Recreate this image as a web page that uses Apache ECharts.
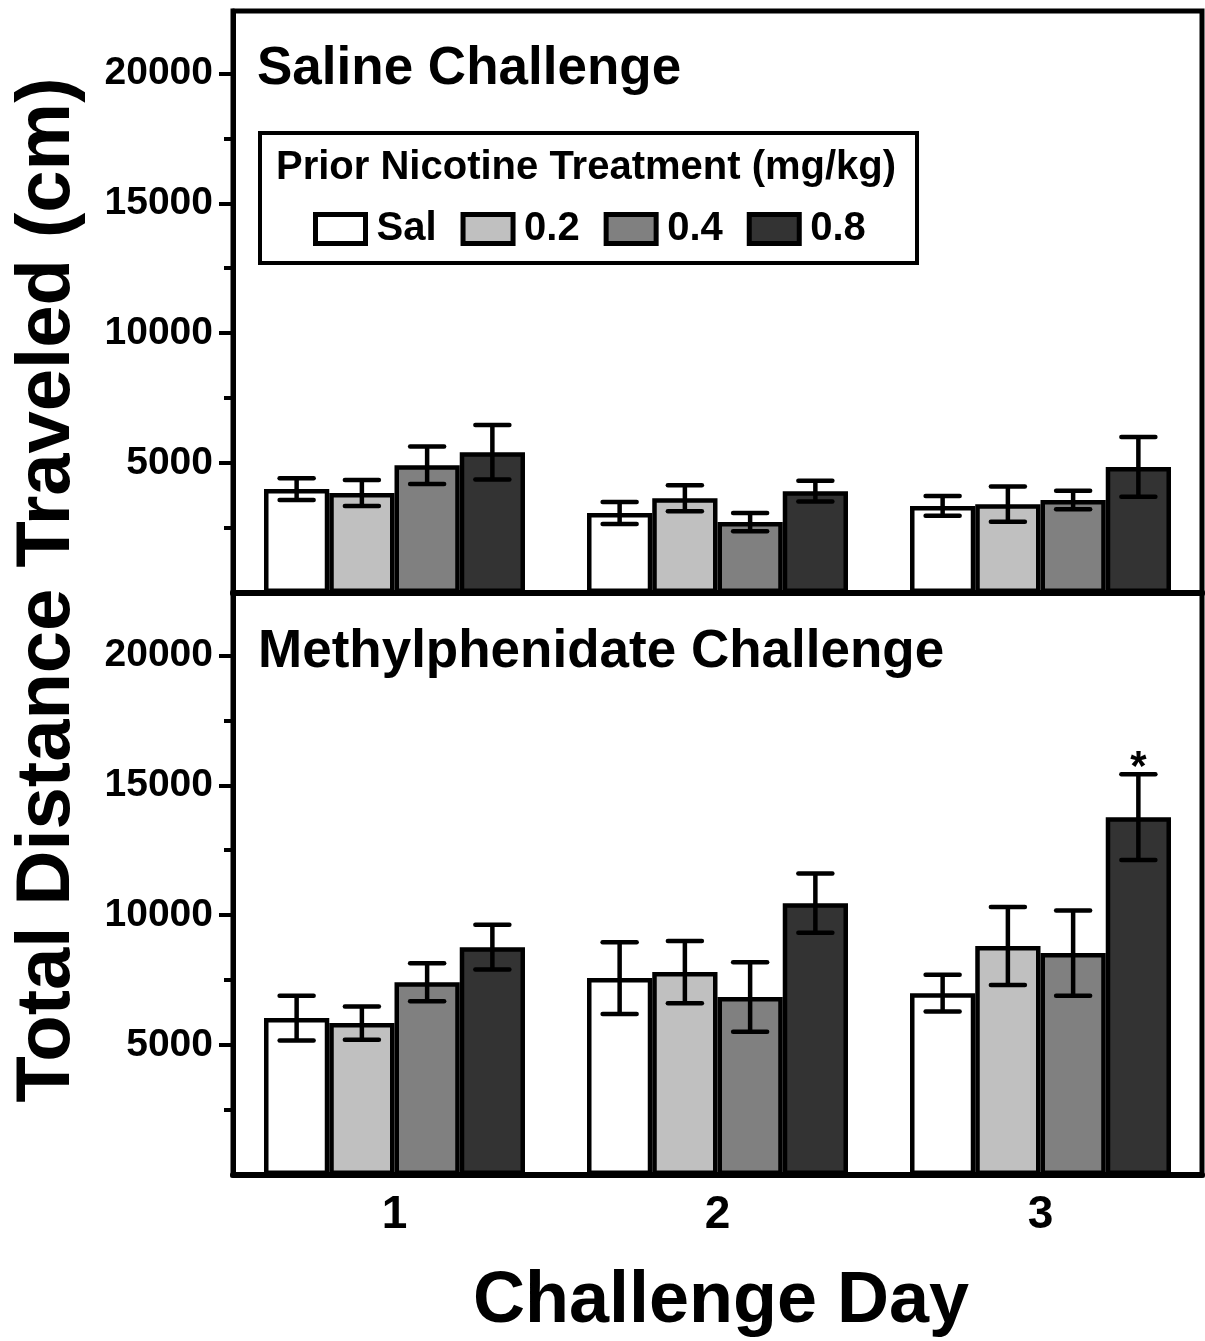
<!DOCTYPE html>
<html>
<head>
<meta charset="utf-8">
<script src="https://cdn.jsdelivr.net/npm/echarts@6/dist/echarts.min.js"></script>
<style>
html,body{margin:0;padding:0;background:#fff;}
#chart{width:1205px;height:1341px;}
</style>
</head>
<body>
<div id="chart"></div>
<script>
// ---- Data ----
const days = ['1', '2', '3'];
const groups = ['Sal', '0.2', '0.4', '0.8'];
const groupColors = ['#ffffff', '#c0c0c0', '#808080', '#333333'];

// Saline challenge: mean and SEM per group (rows) for days 1..3
const salineMeans = [
  [4000, 3080, 3350],   // Sal
  [3850, 3650, 3420],   // 0.2
  [4920, 2730, 3580],   // 0.4
  [5420, 3920, 4850]    // 0.8
];
const salineSems = [
  [420, 420, 380],
  [500, 500, 680],
  [720, 350, 360],
  [1050, 400, 1150]
];
// Methylphenidate challenge
const methMeans = [
  [6040, 7580, 7000],
  [5850, 7810, 8810],
  [7420, 6850, 8540],
  [8770, 10460, 13770]
];
const methSems = [
  [860, 1380, 710],
  [640, 1200, 1500],
  [730, 1340, 1640],
  [860, 1140, 1650]
];
// significance marks: [dayIndex, groupIndex]
const salineSig = [];
const methSig = [[2, 3]];

const yMax = 22400;
const majorTicks = [5000, 10000, 15000, 20000];
const minorTicks = [2500, 7500, 12500, 17500];

const FONT = "'Liberation Sans', Arial, Helvetica, sans-serif";
const CAT_GAP = 0.192;

// ---- Build options ----
const chart = echarts.init(document.getElementById('chart'), null, {renderer: 'canvas'});

function yAxesFor(gridIndex) {
  return [
    {
      type: 'value', gridIndex: gridIndex, min: 0, max: yMax,
      axisLine: {show: true, lineStyle: {color: '#000', width: 5}},
      axisTick: {show: true, customValues: majorTicks, length: 14, lineStyle: {color: '#000', width: 4}},
      axisLabel: {show: true, customValues: majorTicks, formatter: v => String(v), fontFamily: FONT, fontWeight: 'bold', fontSize: 39, color: '#000', margin: 20},
      splitLine: {show: false}
    },
    {
      type: 'value', gridIndex: gridIndex, min: 0, max: yMax, position: 'left',
      axisLine: {show: false},
      axisTick: {show: true, customValues: minorTicks, length: 9, lineStyle: {color: '#000', width: 4}},
      axisLabel: {show: false},
      splitLine: {show: false}
    }
  ];
}

function barSeries(means, axisIdx) {
  return groups.map((g, gi) => ({
    name: g,
    type: 'bar',
    xAxisIndex: axisIdx,
    yAxisIndex: axisIdx * 2,
    data: means[gi],
    barGap: '0%',
    barCategoryGap: (CAT_GAP * 100) + '%',
    itemStyle: {color: groupColors[gi], borderColor: '#000', borderWidth: 4.5},
    emphasis: {disabled: true},
    z: 2
  }));
}

function errSeries(means, sems, sig, axisIdx) {
  const data = [];
  groups.forEach((g, gi) => {
    days.forEach((d, di) => {
      const isSig = sig.some(s => s[0] === di && s[1] === gi) ? 1 : 0;
      data.push([di, means[gi][di], sems[gi][di], gi, isSig]);
    });
  });
  return {
    name: 'err' + axisIdx,
    type: 'custom',
    xAxisIndex: axisIdx,
    yAxisIndex: axisIdx * 2,
    z: 5,
    silent: true,
    data: data,
    renderItem: function (params, api) {
      const cat = api.value(0), mean = api.value(1), sem = api.value(2), gi = api.value(3), sg = api.value(4);
      const band = api.size([1, 0])[0];
      const barW = band * (1 - CAT_GAP) / groups.length;
      const x = api.coord([cat, mean])[0] + (gi - (groups.length - 1) / 2) * barW;
      const yTop = api.coord([cat, mean + sem])[1];
      const yBot = api.coord([cat, mean - sem])[1];
      const half = 17;
      const st = {stroke: '#000', lineWidth: 4.5, lineCap: 'round'};
      const children = [
        {type: 'line', shape: {x1: x, y1: yTop, x2: x, y2: yBot}, style: {stroke: '#000', lineWidth: 4.5}},
        {type: 'line', shape: {x1: x - half, y1: yTop, x2: x + half, y2: yTop}, style: st},
        {type: 'line', shape: {x1: x - half, y1: yBot, x2: x + half, y2: yBot}, style: st}
      ];
      if (sg) {
        children.push({type: 'text', style: {text: '*', x: x, y: yTop - 6, align: 'center', verticalAlign: 'middle',
          font: 'bold 42px ' + FONT, fill: '#000'}});
      }
      return {type: 'group', children: children};
    }
  };
}

const xAxisBase = {
  type: 'category', data: days,
  axisLine: {show: true, onZero: false, lineStyle: {color: '#000', width: 6}},
  axisTick: {show: false},
  splitLine: {show: false}
};

const option = {
  backgroundColor: '#fff',
  animation: false,
  grid: [
    {left: 233, right: 3, top: 11, height: 582, show: true, borderColor: '#000', borderWidth: 5, containLabel: false},
    {left: 233, right: 3, top: 593, height: 582, show: true, borderColor: '#000', borderWidth: 5, containLabel: false}
  ],
  xAxis: [
    Object.assign({}, xAxisBase, {gridIndex: 0, axisLabel: {show: false}}),
    Object.assign({}, xAxisBase, {gridIndex: 1, axisLabel: {show: true, fontFamily: FONT, fontWeight: 'bold', fontSize: 46, color: '#000', margin: 17}})
  ],
  yAxis: yAxesFor(0).concat(yAxesFor(1)),
  legend: {
    show: true,
    data: groups,
    left: 308, top: 204,
    orient: 'horizontal',
    icon: 'rect',
    itemWidth: 50, itemHeight: 29, itemGap: 24,
    itemStyle: {borderColor: '#000', borderWidth: 5},
    textStyle: {fontFamily: FONT, fontWeight: 'bold', fontSize: 40, color: '#000', padding: [0, 0, 0, 6]},
    selectedMode: false,
    z: 10
  },
  graphic: [
    {type: 'rect', z: 3, shape: {x: 260, y: 133, width: 657, height: 130}, style: {fill: '#fff', stroke: '#000', lineWidth: 4}},
    {type: 'text', z: 4, style: {text: 'Prior Nicotine Treatment (mg/kg)', x: 276, y: 168, verticalAlign: 'middle', font: 'bold 40px ' + FONT, fill: '#000'}},
    {type: 'text', z: 4, style: {text: 'Saline Challenge', x: 257, y: 69, verticalAlign: 'middle', font: 'bold 53px ' + FONT, fill: '#000'}},
    {type: 'text', z: 4, style: {text: 'Methylphenidate Challenge', x: 258, y: 652, verticalAlign: 'middle', font: 'bold 53px ' + FONT, fill: '#000'}},
    {type: 'text', z: 4, x: 48, y: 590, rotation: Math.PI / 2, style: {text: 'Total Distance Traveled (cm)', x: 0, y: 0, align: 'center', verticalAlign: 'middle', font: 'bold 76px ' + FONT, fill: '#000'}},
    {type: 'text', z: 4, style: {text: 'Challenge Day', x: 721, y: 1302, align: 'center', verticalAlign: 'middle', font: 'bold 72px ' + FONT, fill: '#000'}}
  ],
  series: barSeries(salineMeans, 0)
    .concat(barSeries(methMeans, 1))
    .concat([errSeries(salineMeans, salineSems, salineSig, 0), errSeries(methMeans, methSems, methSig, 1)])
};

chart.setOption(option);
</script>
</body>
</html>
